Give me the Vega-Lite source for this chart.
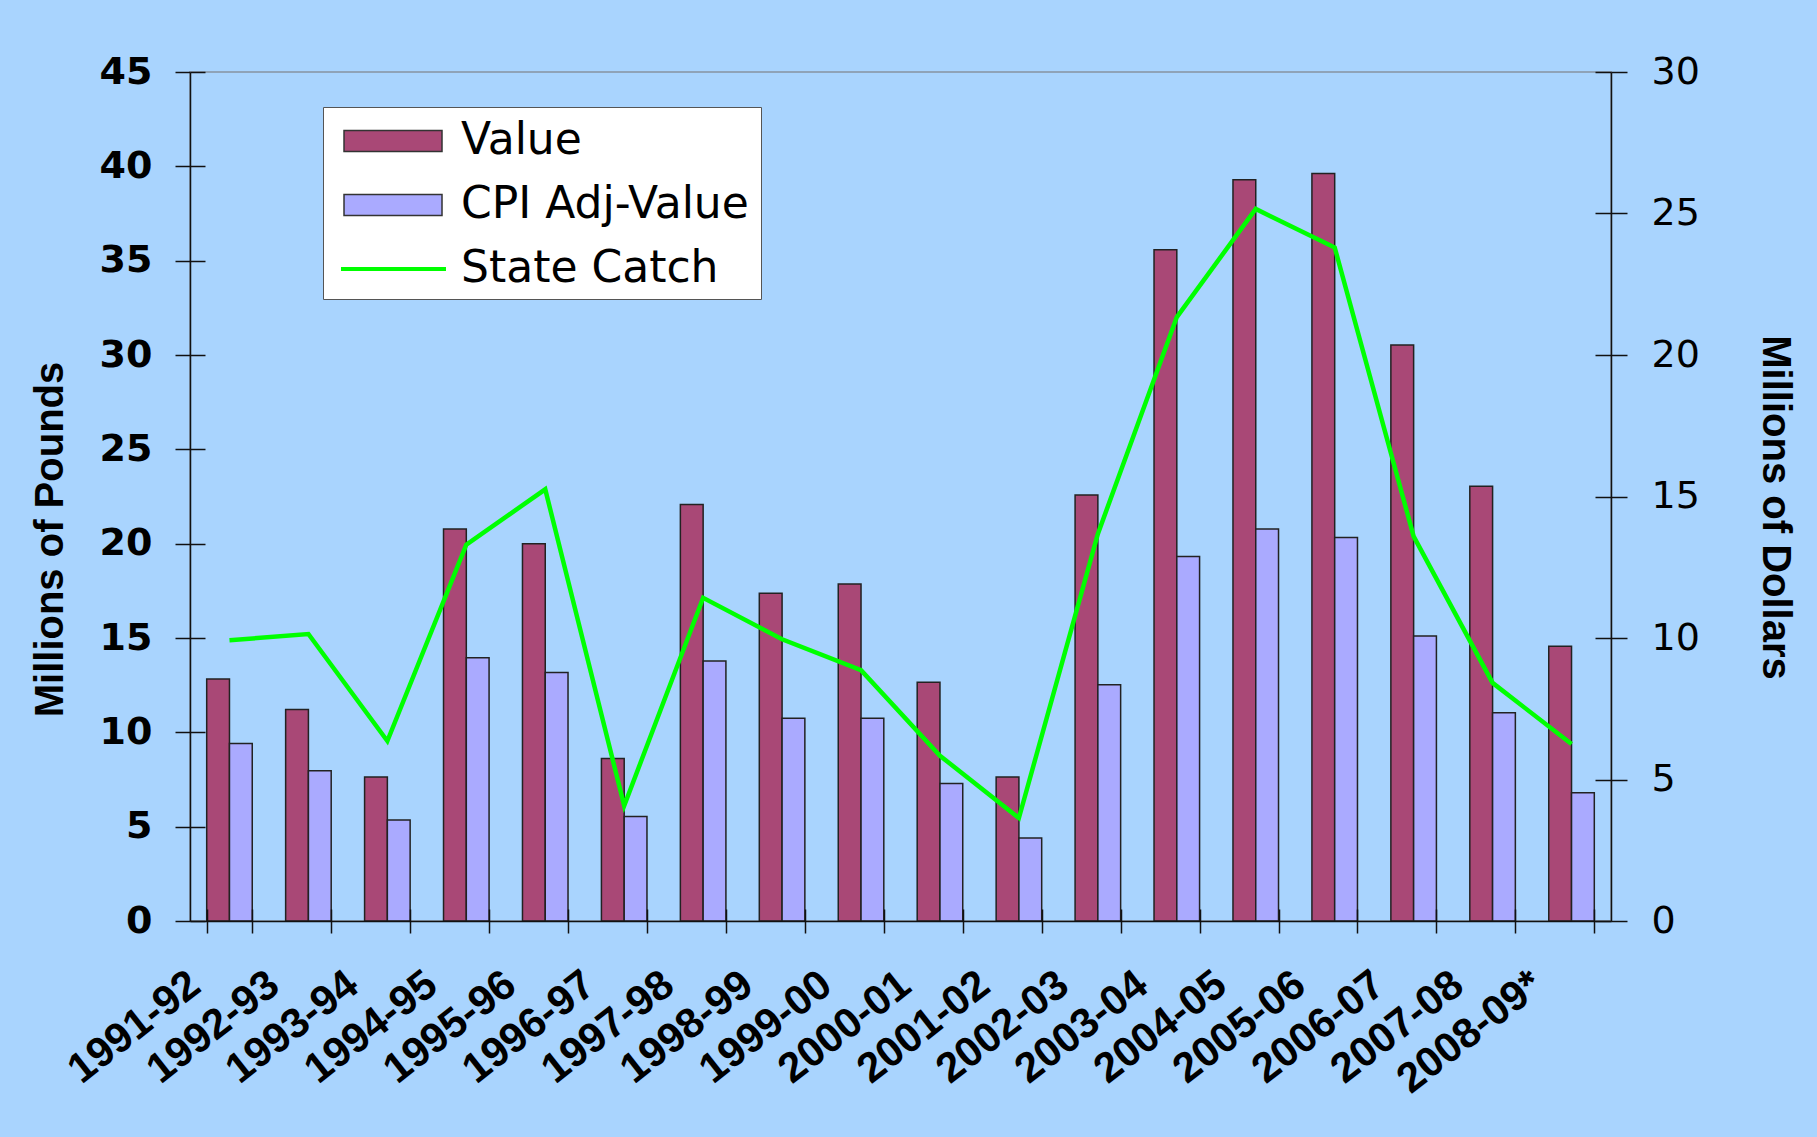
{
  "$schema": "https://vega.github.io/schema/vega-lite/v6.json",
  "width": 1421,
  "height": 849,
  "autosize": {"type": "none"},
  "padding": {"left": 190, "top": 72, "right": 206, "bottom": 216},
  "background": "#A9D4FE",
  "datasets": {
    "money": [
      {"season": "1991-92", "series": "Value", "dollars": 8.55},
      {"season": "1991-92", "series": "CPI Adj-Value", "dollars": 6.27},
      {"season": "1992-93", "series": "Value", "dollars": 7.47},
      {"season": "1992-93", "series": "CPI Adj-Value", "dollars": 5.31},
      {"season": "1993-94", "series": "Value", "dollars": 5.09},
      {"season": "1993-94", "series": "CPI Adj-Value", "dollars": 3.57},
      {"season": "1994-95", "series": "Value", "dollars": 13.85},
      {"season": "1994-95", "series": "CPI Adj-Value", "dollars": 9.30},
      {"season": "1995-96", "series": "Value", "dollars": 13.33},
      {"season": "1995-96", "series": "CPI Adj-Value", "dollars": 8.78},
      {"season": "1996-97", "series": "Value", "dollars": 5.74},
      {"season": "1996-97", "series": "CPI Adj-Value", "dollars": 3.69},
      {"season": "1997-98", "series": "Value", "dollars": 14.72},
      {"season": "1997-98", "series": "CPI Adj-Value", "dollars": 9.19},
      {"season": "1998-99", "series": "Value", "dollars": 11.58},
      {"season": "1998-99", "series": "CPI Adj-Value", "dollars": 7.16},
      {"season": "1999-00", "series": "Value", "dollars": 11.91},
      {"season": "1999-00", "series": "CPI Adj-Value", "dollars": 7.16},
      {"season": "2000-01", "series": "Value", "dollars": 8.44},
      {"season": "2000-01", "series": "CPI Adj-Value", "dollars": 4.86},
      {"season": "2001-02", "series": "Value", "dollars": 5.09},
      {"season": "2001-02", "series": "CPI Adj-Value", "dollars": 2.93},
      {"season": "2002-03", "series": "Value", "dollars": 15.05},
      {"season": "2002-03", "series": "CPI Adj-Value", "dollars": 8.35},
      {"season": "2003-04", "series": "Value", "dollars": 23.72},
      {"season": "2003-04", "series": "CPI Adj-Value", "dollars": 12.88},
      {"season": "2004-05", "series": "Value", "dollars": 26.19},
      {"season": "2004-05", "series": "CPI Adj-Value", "dollars": 13.85},
      {"season": "2005-06", "series": "Value", "dollars": 26.41},
      {"season": "2005-06", "series": "CPI Adj-Value", "dollars": 13.55},
      {"season": "2006-07", "series": "Value", "dollars": 20.35},
      {"season": "2006-07", "series": "CPI Adj-Value", "dollars": 10.07},
      {"season": "2007-08", "series": "Value", "dollars": 15.36},
      {"season": "2007-08", "series": "CPI Adj-Value", "dollars": 7.36},
      {"season": "2008-09*", "series": "Value", "dollars": 9.71},
      {"season": "2008-09*", "series": "CPI Adj-Value", "dollars": 4.53}
    ],
    "catch": [
      {"season": "1991-92", "pounds": 14.88},
      {"season": "1992-93", "pounds": 15.21},
      {"season": "1993-94", "pounds": 9.54},
      {"season": "1994-95", "pounds": 19.95},
      {"season": "1995-96", "pounds": 22.88},
      {"season": "1996-97", "pounds": 6.11},
      {"season": "1997-98", "pounds": 17.13},
      {"season": "1998-99", "pounds": 14.93},
      {"season": "1999-00", "pounds": 13.29},
      {"season": "2000-01", "pounds": 8.76},
      {"season": "2001-02", "pounds": 5.46},
      {"season": "2002-03", "pounds": 20.52},
      {"season": "2003-04", "pounds": 32.01},
      {"season": "2004-05", "pounds": 37.74},
      {"season": "2005-06", "pounds": 35.70},
      {"season": "2006-07", "pounds": 20.39},
      {"season": "2007-08", "pounds": 12.62},
      {"season": "2008-09*", "pounds": 9.38}
    ]
  },
  "layer": [
    {
      "data": {"name": "money"},
      "mark": {"type": "bar", "stroke": "#222", "strokeWidth": 1.5},
      "encoding": {
        "x": {
          "field": "season",
          "type": "nominal",
          "scale": {"paddingInner": 0.423, "paddingOuter": 0.2115},
          "axis": {
            "title": null,
            "orient": "bottom",
            "tickBand": "extent",
            "tickSize": 12,
            "tickWidth": 1.5,
            "tickColor": "#111",
            "domainColor": "#111",
            "domainWidth": 1.5,
            "labelAngle": -38,
            "labelAlign": "right",
            "labelBaseline": "middle",
            "labelPadding": 46,
            "labelOffset": -35,
            "labelFont": "Liberation Sans",
            "labelFontWeight": "bold",
            "labelFontSize": 42,
            "labelColor": "#000",
            "labelOverlap": false,
            "labelLimit": 400,
            "zindex": 1
          }
        },
        "xOffset": {"field": "series", "type": "nominal", "sort": ["Value", "CPI Adj-Value"], "scale": {"paddingInner": 0, "paddingOuter": 0}},
        "y": {
          "field": "dollars",
          "type": "quantitative",
          "scale": {"domain": [0, 30], "nice": false},
          "axis": {
            "orient": "right",
            "title": "Millions of Dollars",
            "values": [0, 5, 10, 15, 20, 25, 30],
            "grid": false,
            "domainColor": "#111",
            "domainWidth": 1.5,
            "tickColor": "#111",
            "tickWidth": 1.5,
            "tickSize": 16,
            "labelPadding": 24,
            "labelFont": "DejaVu Sans",
            "labelFontSize": 38,
            "labelColor": "#000",
            "titleFont": "Liberation Sans",
            "titleFontWeight": "bold",
            "titleFontSize": 40,
            "titleColor": "#000",
            "titleAngle": 90,
            "titleX": 151,
            "titleY": 435,
            "titleAlign": "center",
            "titleBaseline": "alphabetic",
            "zindex": 1
          }
        },
        "color": {
          "field": "series",
          "type": "nominal",
          "scale": {"domain": ["Value", "CPI Adj-Value"], "range": ["#A94876", "#AAAAFF"]},
          "legend": {
            "title": " ",
            "titleOrient": "bottom",
            "titleFontSize": 44,
            "titlePadding": 16,
            "orient": "none",
            "legendX": 133,
            "legendY": 35,
            "fillColor": "#FFFFFF",
            "strokeColor": "#555555",
            "padding": 12,
            "rowPadding": 20,
            "symbolSize": 1444,
            "symbolType": "M-0.684,-0.553L4.474,-0.553L4.474,0.553L-0.684,0.553Z",
            "symbolStrokeWidth": 1.5,
            "symbolStrokeColor": "#333333",
            "symbolOpacity": 1,
            "labelFont": "DejaVu Sans",
            "labelFontSize": 44,
            "labelColor": "#000",
            "labelOffset": 82,
            "labelLimit": 500
          }
        }
      }
    },
    {
      "data": {"name": "catch"},
      "mark": {"type": "line", "strokeWidth": 4.5},
      "encoding": {
        "x": {
          "field": "season",
          "type": "nominal",
          "scale": {"paddingInner": 0.423, "paddingOuter": 0.2115},
          "axis": null
        },
        "y": {
          "field": "pounds",
          "type": "quantitative",
          "scale": {"domain": [0, 45], "nice": false},
          "axis": {
            "orient": "left",
            "title": "Millions of Pounds",
            "values": [0, 5, 10, 15, 20, 25, 30, 35, 40, 45],
            "grid": false,
            "domainColor": "#111",
            "domainWidth": 1.5,
            "tickColor": "#111",
            "tickWidth": 1.5,
            "tickSize": 15,
            "labelPadding": 23,
            "labelFont": "DejaVu Sans",
            "labelFontWeight": "bold",
            "labelFontSize": 38,
            "labelColor": "#000",
            "titleFont": "Liberation Sans",
            "titleFontWeight": "bold",
            "titleFontSize": 40,
            "titleColor": "#000",
            "titleAngle": -90,
            "titleX": -128,
            "titleY": 467,
            "titleAlign": "center",
            "titleBaseline": "alphabetic",
            "zindex": 1
          }
        },
        "stroke": {
          "datum": "State Catch",
          "scale": {"domain": ["State Catch"], "range": ["#00FF00"]},
          "legend": {
            "title": null,
            "orient": "none",
            "legendX": 133,
            "legendY": 163,
            "padding": 12,
            "symbolSize": 1444,
            "symbolType": "M-0.842,0L4.684,0",
            "symbolStrokeWidth": 4,
            "labelFont": "DejaVu Sans",
            "labelFontSize": 44,
            "labelColor": "#000",
            "labelOffset": 82,
            "labelLimit": 500
          }
        }
      }
    },
    {
      "data": {"name": "catch"},
      "mark": {"type": "line", "strokeOpacity": 0},
      "encoding": {
        "x": {
          "field": "season",
          "type": "nominal",
          "scale": {"paddingInner": 0.423, "paddingOuter": 0.2115},
          "axis": {
            "title": null,
            "orient": "bottom",
            "offset": -12,
            "tickBand": "extent",
            "tickSize": 12,
            "tickWidth": 1.5,
            "tickColor": "#111",
            "domain": false,
            "labels": false,
            "zindex": 2
          }
        },
        "y": {
          "field": "pounds",
          "type": "quantitative",
          "scale": {"domain": [0, 45], "nice": false},
          "axis": {
            "orient": "left",
            "offset": -15,
            "title": null,
            "values": [0, 5, 10, 15, 20, 25, 30, 35, 40, 45],
            "grid": false,
            "domain": false,
            "labels": false,
            "tickColor": "#111",
            "tickWidth": 1.5,
            "tickSize": 15,
            "zindex": 2
          }
        }
      }
    },
    {
      "data": {"name": "catch"},
      "mark": {"type": "line", "strokeOpacity": 0},
      "encoding": {
        "x": {
          "field": "season",
          "type": "nominal",
          "scale": {"paddingInner": 0.423, "paddingOuter": 0.2115},
          "axis": null
        },
        "y": {
          "field": "pounds",
          "type": "quantitative",
          "scale": {"domain": [0, 45], "nice": false},
          "axis": {
            "orient": "right",
            "offset": -16,
            "title": null,
            "values": [0, 7.5, 15, 22.5, 30, 37.5, 45],
            "grid": false,
            "domain": false,
            "labels": false,
            "tickColor": "#111",
            "tickWidth": 1.5,
            "tickSize": 16,
            "zindex": 2
          }
        }
      }
    }
  ],
  "resolve": {"scale": {"y": "independent", "x": "independent"}, "axis": {"y": "independent", "x": "independent"}},
  "config": {
    "view": {"stroke": "#8FA3B8", "strokeWidth": 2}
  }
}
